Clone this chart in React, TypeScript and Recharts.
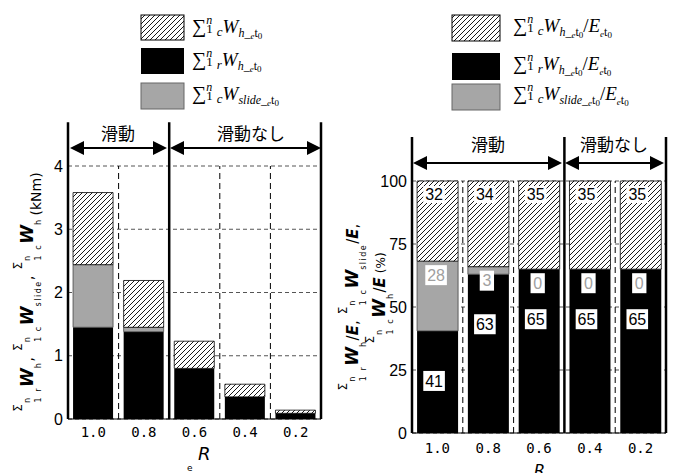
import React from 'react';
import {
  BarChart, Bar, XAxis, YAxis, CartesianGrid, ReferenceLine, LabelList,
} from 'recharts';

const categories = ['1.0', '0.8', '0.6', '0.4', '0.2'];

// left panel, kNm
const rWh = [1.45, 1.38, 0.8, 0.35, 0.09];
const cWslide = [0.99, 0.07, 0, 0, 0];
const cWh = [1.14, 0.74, 0.43, 0.2, 0.05];

// right panel, % of input energy
const rWhPct = [40.5, 63, 65, 65, 65];
const cWslidePct = [27.7, 3, 0, 0, 0];
const cWhPct = [31.8, 34, 35, 35, 35];

const leftTicks = [0, 1, 2, 3, 4];
const rightTicks = [0, 25, 50, 75, 100];

// band edges: [category, side]
type Edge = [string, 'start' | 'end'];
const leftSolid: Edge[] = [['1.0', 'start'], ['0.6', 'start'], ['0.2', 'end']];
const leftDashed: Edge[] = [['0.8', 'start'], ['0.4', 'start'], ['0.2', 'start']];
const rightSolid: Edge[] = [['1.0', 'start'], ['0.4', 'start'], ['0.2', 'end']];
const rightDashed: Edge[] = [['0.8', 'start'], ['0.6', 'start'], ['0.2', 'start']];

const leftData = categories.map((cat, i) => ({ cat, r: rWh[i], slide: cWslide[i], c: cWh[i] }));
const rightData = categories.map((cat, i) => ({ cat, r: rWhPct[i], slide: cWslidePct[i], c: cWhPct[i] }));

const NARROW = "'Liberation Sans Narrow', 'Liberation Sans', Arial, sans-serif";
const MONO = "'DejaVu Sans Mono', 'Liberation Mono', monospace";
const JP = "'Noto Sans CJK JP', 'Noto Sans', sans-serif";
const SERIF = "'Liberation Serif', 'DejaVu Serif', serif";
const SANS = "'DejaVu Sans', 'Liberation Sans', sans-serif";

const GRAY = '#a6a6a6';

const labelBox = (cx: number, top: number, text: string, h: number, color: string) => {
  const w = text.length * 7.3 + 7;
  return (
    <g>
      <rect x={cx - w / 2} y={top} width={w} height={h} fill="#fff" />
      <text x={cx} y={top + h / 2 + 5.7} textAnchor="middle" fontFamily={NARROW} fontSize={16} fill={color}>
        {text}
      </text>
    </g>
  );
};

const geom = (props: any) => {
  const vb = props.viewBox || {};
  return {
    x: Number(props.x ?? vb.x),
    y: Number(props.y ?? vb.y),
    height: Number(props.height ?? vb.height),
    index: Number(props.index ?? 0),
  };
};

const HatchLabel = (props: any) => {
  const { x, y, index } = geom(props);
  return labelBox(x + 17, y + 5, String(Math.round(cWhPct[index])), 17, '#000');
};

const BlackLabel = (props: any) => {
  const { x, y, index } = geom(props);
  return labelBox(x + 17, y + 40, String(Math.round(rWhPct[index])), 20, '#000');
};

// gray value sits on top of the black segment; use the black rect to get px per %
const GrayLabel = (props: any) => {
  const { x, y, height, index } = geom(props);
  const pxPer = height / rWhPct[index];
  const top = y - cWslidePct[index] * pxPer;
  return labelBox(x + 19, top + 4, String(Math.round(cWslidePct[index])), 20, '#a0a0a0');
};

const Arrow = ({ x1, x2, y }: { x1: number; x2: number; y: number }) => (
  <g>
    <line x1={x1 + 12} x2={x2 - 12} y1={y} y2={y} stroke="#000" strokeWidth={2} />
    <polygon points={`${x1},${y} ${x1 + 14},${y - 7} ${x1 + 14},${y + 7}`} fill="#000" />
    <polygon points={`${x2},${y} ${x2 - 14},${y - 7} ${x2 - 14},${y + 7}`} fill="#000" />
  </g>
);

const Formula = ({ x, y, lower, sub, ratio }: { x: number; y: number; lower: string; sub: string; ratio?: boolean }) => (
  <text x={x} y={y} fontFamily={SERIF} fontSize={18} fill="#000">
    <tspan fontSize={20}>∑</tspan>
    <tspan fontSize={12} fontStyle="italic" dy={-9}>n</tspan>
    <tspan fontSize={13} dx={-6} dy={9}>1</tspan>
    <tspan fontSize={13} fontStyle="italic" dx={4} dy={3}>{lower}</tspan>
    <tspan fontSize={19} fontStyle="italic" dy={-3}>W</tspan>
    <tspan fontSize={12} fontStyle="italic" dy={4}>{sub}_</tspan>
    <tspan fontSize={9} fontStyle="italic" dy={2}>e</tspan>
    <tspan fontSize={12} dy={-2}>t</tspan>
    <tspan fontSize={9} dy={2}>0</tspan>
    {ratio && (
      <>
        <tspan fontSize={19} dy={-6}>/</tspan>
        <tspan fontSize={19} fontStyle="italic">E</tspan>
        <tspan fontSize={9} fontStyle="italic" dy={5}>e</tspan>
        <tspan fontSize={12} dy={-1}>t</tspan>
        <tspan fontSize={9} dy={2}>0</tspan>
      </>
    )}
  </text>
);

const sigma = (lower: string, sub: string, tail: React.ReactNode, key: string, lead = 0) => (
  <React.Fragment key={key}>
    <tspan fontSize={12} dx={lead} dy={-11}>Σ</tspan>
    <tspan fontSize={8} dx={1} dy={8}>n</tspan>
    <tspan fontSize={8} dx={-4.5} dy={11} letterSpacing={1.5}>1 {lower}</tspan>
    <tspan fontSize={17} fontStyle="italic" fontWeight={700} dy={-8}>W</tspan>
    <tspan fontSize={8} dy={8} letterSpacing={1.5}>{sub}</tspan>
    <tspan fontSize={15} dy={-8}>{tail}</tspan>
  </React.Fragment>
);

const overE = (comma: boolean) => (
  <>
    /<tspan fontStyle="italic" fontWeight={700}>E</tspan>{comma ? ',' : ''}
  </>
);

const Overlay = () => (
  <svg width={685} height={473} style={{ position: 'absolute', left: 0, top: 0, pointerEvents: 'none' }}>
    {/* legends */}
    <rect x={141} y={15} width={43} height={25} fill="url(#hatch)" stroke="#000" strokeWidth={1} />
    <rect x={141} y={48} width={43} height={26} fill="#000" />
    <rect x={141} y={83} width={43} height={26} fill={GRAY} stroke="#666" strokeWidth={1} />
    <Formula x={192} y={33} lower="c" sub="h" />
    <Formula x={192} y={66} lower="r" sub="h" />
    <Formula x={192} y={100} lower="c" sub="slide" />

    <rect x={452} y={15} width={48} height={26} fill="url(#hatch)" stroke="#000" strokeWidth={1} />
    <rect x={452} y={53} width={48} height={27} fill="#000" />
    <rect x={452} y={84} width={48} height={26} fill={GRAY} stroke="#666" strokeWidth={1} />
    <Formula x={513} y={32} lower="c" sub="h" ratio />
    <Formula x={513} y={70} lower="r" sub="h" ratio />
    <Formula x={513} y={100} lower="c" sub="slide" ratio />

    {/* region arrows */}
    <text x={118} y={140} textAnchor="middle" fontFamily={JP} fontSize={17}>滑動</text>
    <Arrow x1={70} x2={167} y={148} />
    <text x={251} y={140} textAnchor="middle" fontFamily={JP} fontSize={17}>滑動なし</text>
    <Arrow x1={170} x2={321} y={148} />

    <text x={488} y={151} textAnchor="middle" fontFamily={JP} fontSize={17}>滑動</text>
    <Arrow x1={413} x2={562} y={163} />
    <text x={614} y={151} textAnchor="middle" fontFamily={JP} fontSize={17}>滑動なし</text>
    <Arrow x1={565} x2={664} y={163} />

    {/* x titles */}
    <text x={187} y={471} fontFamily={SANS} fontSize={9}>e</text>
    <text x={198} y={460} fontFamily={SANS} fontSize={18} fontStyle="italic">R</text>
    <text x={534} y={476} fontFamily={SANS} fontSize={16} fontStyle="italic">R</text>

    {/* y titles */}
    <text transform="translate(33,292) rotate(-90)" textAnchor="middle" fontFamily={SANS} fill="#000">
      {sigma('r', 'h', ',', 'a')}
      {sigma('c', 'slide', ',', 'b', 6)}
      {sigma('c', 'h', '', 'c', 6)}
      <tspan fontSize={14} dx={3}>(kNm)</tspan>
    </text>
    <text transform="translate(358,307) rotate(-90)" textAnchor="middle" fontFamily={SANS} fill="#000">
      {sigma('r', 'h', overE(true), 'a')}
      {sigma('c', 'slide', overE(true), 'b', 6)}
    </text>
    <text transform="translate(385,298) rotate(-90)" textAnchor="middle" fontFamily={SANS} fill="#000">
      {sigma('c', 'h', overE(false), 'a')}
      <tspan fontSize={12} dx={4}>(%)</tspan>
    </text>
  </svg>
);

const tickY = { fontFamily: NARROW, fontSize: 16, fill: '#000' };
const tickX = { fontFamily: MONO, fontSize: 14, fill: '#000' };

const edgeLines = (edges: Edge[], top: number, solid: boolean) =>
  edges.map(([cat, side]) => (
    <ReferenceLine
      key={`${solid ? 's' : 'd'}${cat}${side}`}
      segment={[{ x: cat, y: 0 }, { x: cat, y: top }]}
      position={side}
      ifOverflow="visible"
      stroke="#000"
      strokeWidth={solid ? 2.5 : 1}
      strokeDasharray={solid ? undefined : '6 4'}
    />
  ));

export default function App() {
  return (
    <div style={{ position: 'absolute', left: 0, top: 0, width: 685, height: 473, background: '#fff', overflow: 'hidden' }}>
      <svg width={0} height={0} style={{ position: 'absolute' }}>
        <defs>
          <pattern id="hatch" patternUnits="userSpaceOnUse" width={5} height={5}>
            <rect width={5} height={5} fill="#fff" />
            <path d="M-1,1 l2,-2 M0,5 l5,-5 M4,6 l2,-2" stroke="#000" strokeWidth={0.9} />
          </pattern>
        </defs>
      </svg>

      <div style={{ position: 'absolute', left: 0, top: 0 }}>
        <BarChart width={340} height={473} data={leftData} margin={{ top: 166, right: 19, bottom: 24, left: 0 }} barCategoryGap="10%">
          <CartesianGrid vertical={false} stroke="#555" strokeDasharray="4 3" />
          <XAxis dataKey="cat" height={30} axisLine={{ stroke: '#000' }} tickLine={false} tickSize={6} tickMargin={2} tick={tickX} />
          <YAxis domain={[0, 4]} ticks={leftTicks} width={68} axisLine={{ stroke: '#000' }} tickLine={false} tickSize={3} tickMargin={2} tick={tickY} />
          <Bar dataKey="r" stackId="s" fill="#000" isAnimationActive={false} />
          <Bar dataKey="slide" stackId="s" fill={GRAY} stroke="#444" strokeWidth={0.8} isAnimationActive={false} />
          <Bar dataKey="c" stackId="s" fill="url(#hatch)" stroke="#000" strokeWidth={0.8} isAnimationActive={false} />
          {edgeLines(leftDashed, 4, false)}
          {edgeLines(leftSolid, 4.69, true)}
        </BarChart>
      </div>

      <div style={{ position: 'absolute', left: 340, top: 0 }}>
        <BarChart width={345} height={473} data={rightData} margin={{ top: 181, right: 19, bottom: 14, left: 0 }} barCategoryGap="10%">
          <CartesianGrid vertical={false} stroke="#555" strokeDasharray="4 3" />
          <XAxis dataKey="cat" height={26} axisLine={{ stroke: '#000' }} tickLine={false} tickSize={6} tickMargin={4} tick={tickX} />
          <YAxis domain={[0, 100]} ticks={rightTicks} width={72} axisLine={{ stroke: '#000' }} tickLine={false} tickSize={3} tickMargin={2} tick={tickY} />
          <Bar dataKey="r" stackId="s" fill="#000" isAnimationActive={false}>
            <LabelList dataKey="r" content={<BlackLabel />} />
            <LabelList dataKey="slide" content={<GrayLabel />} />
          </Bar>
          <Bar dataKey="slide" stackId="s" fill={GRAY} stroke="#444" strokeWidth={0.8} isAnimationActive={false} />
          <Bar dataKey="c" stackId="s" fill="url(#hatch)" stroke="#000" strokeWidth={0.8} isAnimationActive={false}>
            <LabelList dataKey="c" content={<HatchLabel />} />
          </Bar>
          {edgeLines(rightDashed, 100, false)}
          {edgeLines(rightSolid, 117.5, true)}
        </BarChart>
      </div>

      <Overlay />
    </div>
  );
}
